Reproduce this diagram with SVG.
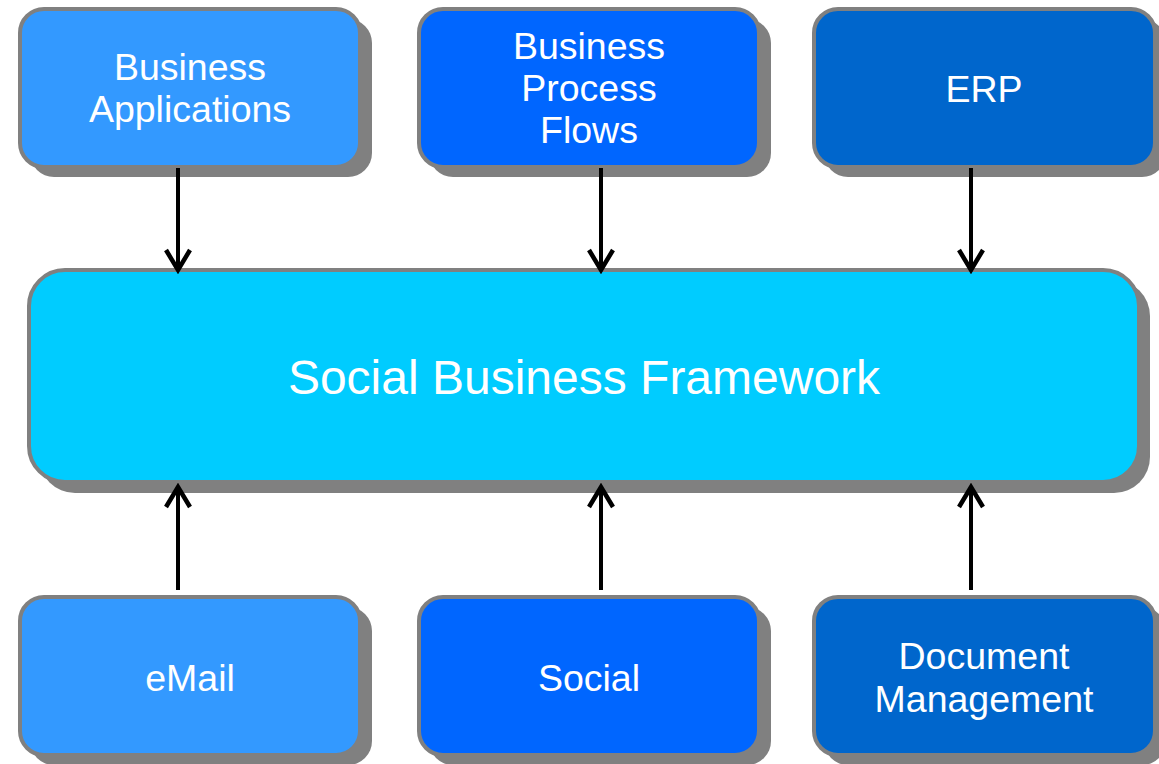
<svg xmlns="http://www.w3.org/2000/svg" width="1159" height="764" viewBox="0 0 1159 764">
<style>
.shadow{fill:#808080}
.box{stroke:#808080;stroke-width:4}
.c1{fill:#3399FF}
.c2{fill:#0066FF}
.c3{fill:#0066CC}
.cm{fill:#00CCFF}
text{font-family:"Liberation Sans",Arial,sans-serif;fill:#FFFFFF;text-anchor:middle;font-size:37.5px}
.big{font-size:48px}
.conn{stroke:#000;stroke-width:4;fill:none}
</style>
<defs>
<marker id="arr" markerUnits="userSpaceOnUse" viewBox="-26 -16 30 32" markerWidth="30" markerHeight="32" refX="0" refY="0" orient="auto">
<path d="M-20,-12 L0,0 L-20,12" fill="none" stroke="#000" stroke-width="4.5"/>
</marker>
</defs>
<g id="business-applications">
<rect class="shadow" x="30" y="19" width="342" height="158" rx="24"/>
<rect class="box c1" x="20" y="9" width="340" height="158" rx="24"/>
<text x="190" y="80">Business</text>
<text x="190" y="122">Applications</text>
</g>
<g id="business-process-flows">
<rect class="shadow" x="429" y="19" width="342" height="158" rx="24"/>
<rect class="box c2" x="419" y="9" width="340" height="158" rx="24"/>
<text x="589" y="59">Business</text>
<text x="589" y="101">Process</text>
<text x="589" y="143">Flows</text>
</g>
<g id="erp">
<rect class="shadow" x="824" y="19" width="342" height="158" rx="24"/>
<rect class="box c3" x="814" y="9" width="341" height="158" rx="24"/>
<text x="984" y="102">ERP</text>
</g>
<g id="social-business-framework">
<rect class="shadow" x="39" y="280" width="1111" height="213" rx="36"/>
<rect class="box cm" x="29" y="270" width="1110" height="212" rx="36"/>
<text class="big" x="584" y="394">Social Business Framework</text>
</g>
<g id="email">
<rect class="shadow" x="30" y="607" width="342" height="158" rx="24"/>
<rect class="box c1" x="20" y="597" width="340" height="158" rx="24"/>
<text x="190" y="691">eMail</text>
</g>
<g id="social">
<rect class="shadow" x="429" y="607" width="342" height="158" rx="24"/>
<rect class="box c2" x="419" y="597" width="340" height="158" rx="24"/>
<text x="589" y="691">Social</text>
</g>
<g id="document-management">
<rect class="shadow" x="824" y="607" width="342" height="158" rx="24"/>
<rect class="box c3" x="814" y="597" width="341" height="158" rx="24"/>
<text x="984" y="669">Document</text>
<text x="984" y="712">Management</text>
</g>
<g id="connectors">
<line class="conn" x1="178" y1="168" x2="178" y2="270" marker-end="url(#arr)"/>
<line class="conn" x1="601" y1="168" x2="601" y2="270" marker-end="url(#arr)"/>
<line class="conn" x1="971" y1="168" x2="971" y2="270" marker-end="url(#arr)"/>
<line class="conn" x1="178" y1="590" x2="178" y2="487" marker-end="url(#arr)"/>
<line class="conn" x1="601" y1="590" x2="601" y2="487" marker-end="url(#arr)"/>
<line class="conn" x1="971" y1="590" x2="971" y2="487" marker-end="url(#arr)"/>
</g>
</svg>
